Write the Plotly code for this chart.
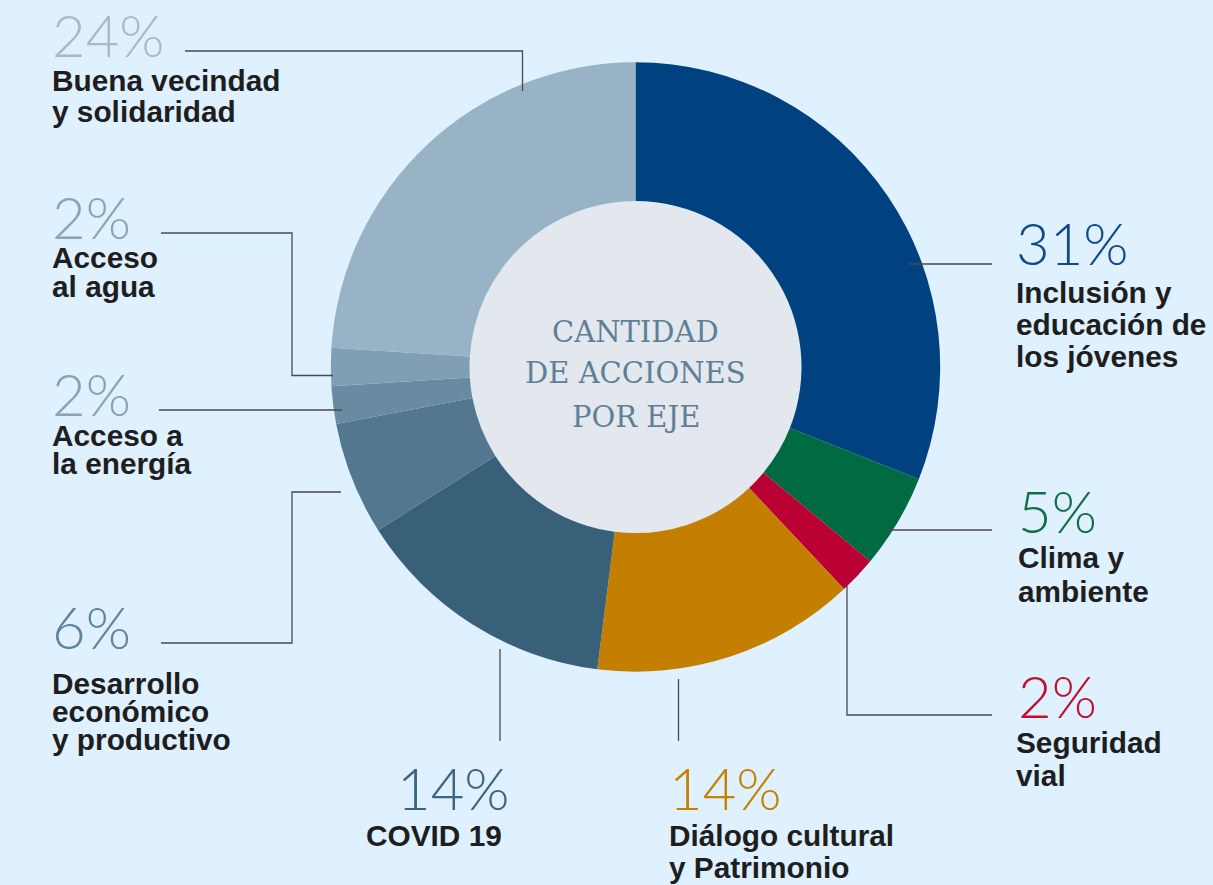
import plotly.graph_objects as go

W, H = 1213, 885

# data
ejes = ["Inclusión y educación de los jóvenes", "Clima y ambiente", "Seguridad vial",
        "Diálogo cultural y Patrimonio", "COVID 19", "Desarrollo económico y productivo",
        "Acceso a la energía", "Acceso al agua", "Buena vecindad y solidaridad"]
porcentajes = [31, 5, 2, 14, 14, 6, 2, 2, 24]
slice_colors = ["#00427f", "#006a43", "#bb0033", "#c47f00", "#386079",
                "#52778f", "#6a8aa2", "#809fb5", "#98b2c6"]
pct_colors = ["#0f4a8a", "#0f7045", "#c01030", "#c58200", "#3b6581",
              "#5f84a0", "#8aa2b5", "#8aa4b7", "#a9bac7"]
# label lines per slice
label_lines = [["Inclusión y", "educación de", "los jóvenes"],
               ["Clima y", "ambiente"],
               ["Seguridad", "vial"],
               ["Diálogo cultural", "y Patrimonio"],
               ["COVID 19"],
               ["Desarrollo", "económico", "y productivo"],
               ["Acceso a", "la energía"],
               ["Acceso", "al agua"],
               ["Buena vecindad", "y solidaridad"]]


def px(x):
    return x / W


def py(y):
    return 1 - y / H


cx, cy, R = 635.5, 367, 304.7
hole_r = 166

fig = go.Figure(go.Pie(
    values=porcentajes,
    labels=ejes,
    marker=dict(colors=slice_colors, line=dict(width=0)),
    sort=False,
    direction="clockwise",
    rotation=0,
    hole=hole_r / R,
    textinfo="none",
    showlegend=False,
    domain=dict(x=[px(cx - R), px(cx + R)], y=[py(cy + R), py(cy - R)]),
))

shapes = [dict(type="circle", xref="paper", yref="paper", layer="below",
               x0=px(cx - hole_r), x1=px(cx + hole_r),
               y0=py(cy + hole_r), y1=py(cy - hole_r),
               fillcolor="#e2e8ed", line=dict(width=0))]

# leader lines (pixel routes)
leaders = [
    [(909, 264), (992, 264)],
    [(887, 530), (992, 530)],
    [(847, 585), (847, 715), (992, 715)],
    [(678.5, 679), (678.5, 741)],
    [(500, 649), (500, 741)],
    [(161, 643), (292, 643), (292, 492), (341, 492)],
    [(159, 410), (342, 410)],
    [(161, 233), (292, 233), (292, 375.5), (333, 375.5)],
    [(185, 51), (522.5, 51), (522.5, 91)],
]
for pts in leaders:
    path = "M " + " L ".join(f"{px(x):.5f},{py(y):.5f}" for x, y in pts)
    shapes.append(dict(type="path", xref="paper", yref="paper", path=path,
                       line=dict(color="#4a4a4a", width=1.3)))

# label positions: (x_left, pct center y, [line center ys])
label_pos = [
    (1014, 242, [292, 324, 356]),
    (1016, 511, [557, 591]),
    (1014, 695, [742, 775]),
    (667, 787, [835, 867]),
    (364, 787, [835]),
    (50, 626, [683, 711, 739]),
    (50, 393, [435, 463]),
    (50, 216, [257, 286]),
    (50, 35, [80, 111]),
]
pct_x = [1014, 1016, 1016, 667, 395, 50, 50, 50, 50]

annotations = []
for i, (xl, pyc, ys) in enumerate(label_pos):
    annotations.append(dict(
        text=f"{porcentajes[i]}%", x=px(pct_x[i]), y=py(pyc), xref="paper", yref="paper",
        xanchor="left", yanchor="middle", showarrow=False,
        font=dict(family="Lato", weight=300, size=58, color=pct_colors[i])))
    for t, yy in zip(label_lines[i], ys):
        annotations.append(dict(
            text=f"<b>{t}</b>", x=px(xl), y=py(yy), xref="paper", yref="paper",
            xanchor="left", yanchor="middle", showarrow=False,
            font=dict(family="Liberation Sans", size=29.8, color="#1e1e1e")))

for t, yy in zip(["CANTIDAD", "DE ACCIONES", "POR EJE"], [332, 372.5, 416.5]):
    annotations.append(dict(
        text=t, x=px(cx), y=py(yy), xref="paper", yref="paper",
        xanchor="center", yanchor="middle", showarrow=False,
        font=dict(family="DejaVu Serif", size=29, color="#5f7f96")))

fig.update_layout(
    width=W, height=H,
    margin=dict(l=0, r=0, t=0, b=0),
    paper_bgcolor="#dff0fe",
    plot_bgcolor="#dff0fe",
    shapes=shapes,
    annotations=annotations,
)

fig.write_html("out.html", config={"displayModeBar": False},
               post_script="document.body.style.margin='0';")
